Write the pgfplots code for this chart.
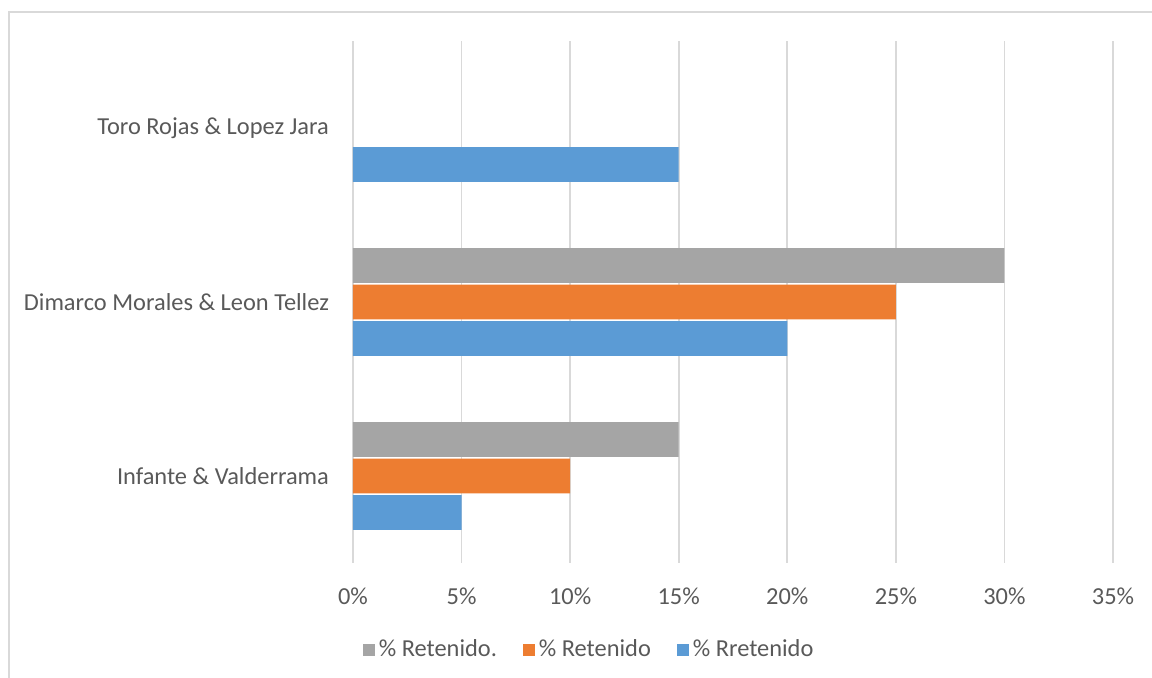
\documentclass[border=0pt]{standalone}
\usepackage{fontspec}
\setmainfont{Carlito}
\usepackage{pgfplots}
\pgfplotsset{compat=1.18}
\definecolor{cgray}{HTML}{A5A5A5}
\definecolor{corange}{HTML}{ED7D31}
\definecolor{cblue}{HTML}{5B9BD5}
\definecolor{cgrid}{HTML}{D9D9D9}
\definecolor{txt}{HTML}{595959}
\begin{document}
\begin{tikzpicture}[x=0.5pt,y=0.5pt]
\useasboundingbox (0,0) rectangle (1152,678);
\draw[cgrid, line width=0.9pt] (9,0) -- (9,666) -- (1152,666);
\begin{axis}[
  at={(176.5pt,57.5pt)}, anchor=south west,
  scale only axis, width=380pt, height=261pt,
  xbar, bar width=0.2,
  xmin=0, xmax=35, ymin=-0.5, ymax=2.5,
  xtick={0,5,...,35},
  xticklabel={\pgfmathprintnumber{\tick}\%},
  ytick={0,1,2},
  yticklabels={Infante \& Valderrama, Dimarco Morales \& Leon Tellez, Toro Rojas \& Lopez Jara},
  xmajorgrids, grid style={cgrid, line width=0.85pt},
  axis line style={draw=none}, major tick length=0,
  tick label style={font=\fontsize{12.2}{14}\selectfont, text=txt},
  /pgf/number format/assume math mode=true,
  xticklabel style={yshift=-9pt},
  yticklabel style={xshift=-8.5pt},
  legend style={at={(0.312,-0.1665)}, anchor=center, draw=none, fill=none,
    legend columns=-1, font=\fontsize{12.2}{14}\selectfont, text=txt,
    /tikz/every even column/.append style={column sep=11pt}},
  legend image code/.code={\fill[#1, draw=none] (0pt,-3pt) rectangle (6pt,3pt);},
  reverse legend,
]
\addplot[fill=cblue, draw=none, bar shift=-0.21] coordinates {(5,0) (20,1) (15,2)};
\addlegendentry{\% Rretenido}
\addplot[fill=corange, draw=none, bar shift=0] coordinates {(10,0) (25,1)};
\addlegendentry{\% Retenido}
\addplot[fill=cgray, draw=none, bar shift=0.21] coordinates {(15,0) (30,1)};
\addlegendentry{\% Retenido.}
\end{axis}
\end{tikzpicture}
\end{document}
